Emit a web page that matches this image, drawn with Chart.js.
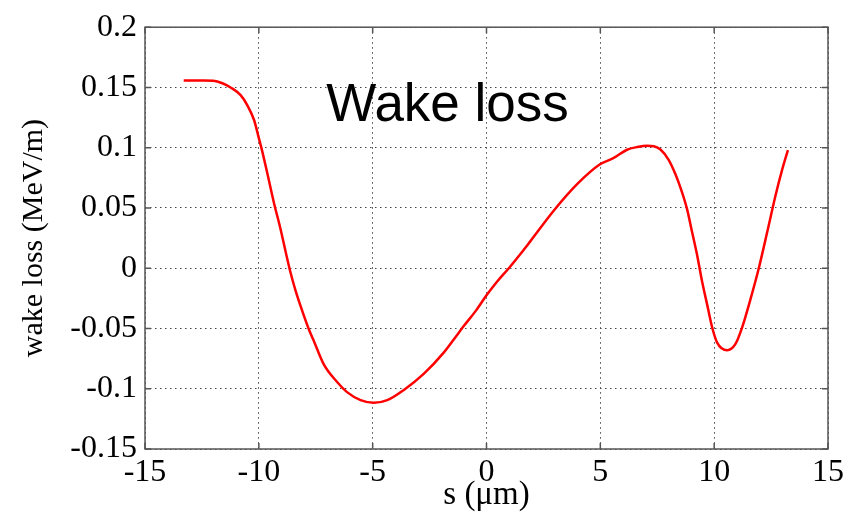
<!DOCTYPE html>
<html>
<head>
<meta charset="utf-8">
<script src="https://cdn.jsdelivr.net/npm/chart.js@4"></script>
<style>
  html, body { margin: 0; padding: 0; background: #fff; }
  #wakeChart { display: block; }
</style>
</head>
<body>
<canvas id="wakeChart" width="856" height="512"></canvas>
<script>
// s position (um) and wake loss (MeV/m) along the bunch
const sValues = [
  -13.30, -12.50, -12.00, -11.60, -11.24, -10.80, -10.51, -10.21, -10.00, -9.85,
  -9.63, -9.34, -9.05, -8.82, -8.60, -8.38, -8.09, -7.80, -7.58, -7.14,
  -6.55, -6.11, -5.53, -4.95, -4.36, -3.63, -2.76, -1.88, -1.43, -1.00,
  -0.48, 0.00, 0.47, 0.98, 1.49, 1.93, 2.96, 3.98, 4.97, 5.59,
  6.17, 6.60, 7.05, 7.35, 7.64, 8.00, 8.30, 8.59, 8.81, 9.03,
  9.25, 9.47, 9.69, 9.91, 10.13, 10.57, 10.93, 11.23, 11.59, 11.96,
  12.33, 12.69, 12.99, 13.24
];
const wakeLoss = [
  0.1558, 0.1557, 0.1555, 0.1535, 0.1500, 0.1436, 0.1354, 0.1230, 0.1080, 0.0970,
  0.0790, 0.0545, 0.0328, 0.0135, -0.0042, -0.0190, -0.0356, -0.0508, -0.0605, -0.0800,
  -0.0946, -0.1030, -0.1095, -0.1117, -0.1095, -0.1010, -0.0877, -0.0700, -0.0589, -0.0480,
  -0.0356, -0.0225, -0.0110, 0.0000, 0.0118, 0.0225, 0.0479, 0.0697, 0.0860, 0.0915,
  0.0983, 0.1005, 0.1017, 0.1012, 0.0985, 0.0900, 0.0780, 0.0630, 0.0490, 0.0300,
  0.0110, -0.0110, -0.0300, -0.0490, -0.0617, -0.0680, -0.0630, -0.0490, -0.0260, 0.0000,
  0.0300, 0.0600, 0.0820, 0.0980
];

const xTicks = [-15, -10, -5, 0, 5, 10, 15];
const yTicks = [-0.15, -0.1, -0.05, 0, 0.05, 0.1, 0.15, 0.2];
const yTickLabels = ['-0.15', '-0.1', '-0.05', '0', '0.05', '0.1', '0.15', '0.2'];

const plotTitle = 'Wake loss';
const titleAt = { s: -1.71, v: 0.122 };

const serif = '"Liberation Serif", "Times New Roman", serif';

// box frame with inward ticks on all four sides, plus the in-plot title
const framePlugin = {
  id: 'frame',
  afterDraw(chart) {
    const { ctx, chartArea: a, scales: { x, y } } = chart;
    const tl = 6;
    ctx.save();
    ctx.strokeStyle = '#555';
    ctx.lineWidth = 1.5;
    ctx.strokeRect(a.left, a.top, a.right - a.left, a.bottom - a.top);
    ctx.beginPath();
    xTicks.forEach(t => {
      const px = x.getPixelForValue(t);
      ctx.moveTo(px, a.bottom); ctx.lineTo(px, a.bottom - tl);
      ctx.moveTo(px, a.top); ctx.lineTo(px, a.top + tl);
    });
    yTicks.forEach(t => {
      const py = y.getPixelForValue(t);
      ctx.moveTo(a.left, py); ctx.lineTo(a.left + tl, py);
      ctx.moveTo(a.right, py); ctx.lineTo(a.right - tl, py);
    });
    ctx.stroke();

    ctx.fillStyle = '#000';
    ctx.font = '53px "Liberation Sans", Arial, sans-serif';
    ctx.textAlign = 'center';
    ctx.textBaseline = 'alphabetic';
    ctx.fillText(plotTitle, x.getPixelForValue(titleAt.s), y.getPixelForValue(titleAt.v));
    ctx.restore();
  }
};

const ctx = document.getElementById('wakeChart').getContext('2d');
const wakeChart = new Chart(ctx, {
  type: 'line',
  data: {
    datasets: [{
      data: sValues.map((s, i) => ({ x: s, y: wakeLoss[i] })),
      borderColor: '#ff0000',
      borderWidth: 2.5,
      pointRadius: 0,
      cubicInterpolationMode: 'monotone',
      fill: false
    }]
  },
  options: {
    responsive: false,
    devicePixelRatio: 1,
    animation: false,
    layout: { padding: { top: 23, right: 28, left: 0, bottom: 0 } },
    plugins: {
      legend: { display: false },
      tooltip: { enabled: false }
    },
    scales: {
      x: {
        type: 'linear',
        min: -15,
        max: 15,
        afterBuildTicks: scale => { scale.ticks = xTicks.map(v => ({ value: v })); },
        afterFit: scale => { scale.height = 63; },
        grid: { color: '#444', lineWidth: 1, drawTicks: false },
        border: { display: false, dash: [1.5, 3.5] },
        ticks: {
          color: '#000',
          padding: 4,
          maxRotation: 0,
          font: { family: serif, size: 32 },
          callback: v => String(v)
        },
        title: {
          display: true,
          text: 's (\u03bcm)',
          color: '#000',
          font: { family: serif, size: 33, lineHeight: 1 },
          padding: { top: 0, bottom: 0 }
        }
      },
      y: {
        min: -0.15,
        max: 0.2,
        afterBuildTicks: scale => { scale.ticks = yTicks.map(v => ({ value: v })); },
        afterFit: scale => { scale.width = 145; },
        grid: { color: '#444', lineWidth: 1, drawTicks: false },
        border: { display: false, dash: [1.5, 3.5] },
        ticks: {
          color: '#000',
          padding: 8,
          font: { family: serif, size: 32 },
          callback: v => yTickLabels[yTicks.findIndex(t => Math.abs(t - v) < 1e-9)]
        },
        title: {
          display: true,
          text: 'wake loss (MeV/m)',
          color: '#000',
          font: { family: serif, size: 30, lineHeight: 1 },
          padding: { top: 19, bottom: 0 }
        }
      }
    }
  },
  plugins: [framePlugin]
});
</script>
</body>
</html>
